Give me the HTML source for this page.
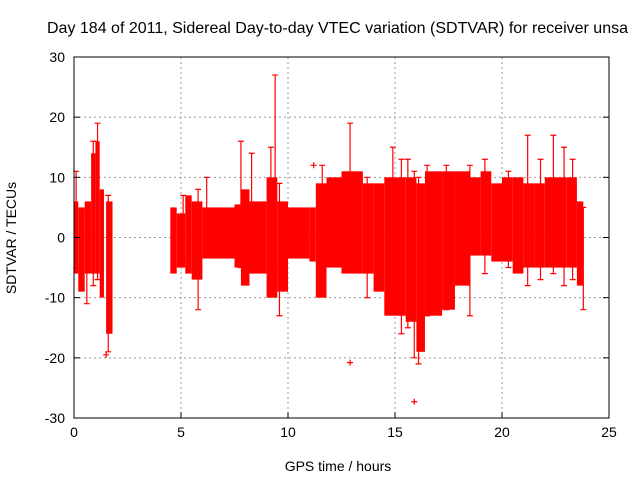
<!DOCTYPE html>
<html><head><meta charset="utf-8"><style>
body{margin:0;background:#fff;}
svg{display:block;font-family:"Liberation Sans",sans-serif;}
</style></head><body>
<svg id="chart" width="640" height="480">
<text x="47" y="33" font-size="16" text-anchor="start">Day 184 of 2011, Sidereal Day-to-day VTEC variation (SDTVAR) for receiver unsa</text>
<text x="338" y="471" font-size="14" text-anchor="middle">GPS time / hours</text>
<text transform="translate(16,238) rotate(-90)" font-size="14" text-anchor="middle">SDTVAR / TECUs</text>
<g id="grid"></g><g id="data"></g><g id="axes"></g>
</svg>
<script>
const xTicks=[0,5,10,15,20,25];
const yTicks=[-30,-20,-10,0,10,20,30];
// envelope bins: start hour, end hour, min, max (TECU)
const binStart=[0,0.2,0.5,0.8,1.0,1.2,1.5,4.5,4.8,5.2,5.5,6.0,7.5,7.8,8.2,9.0,9.5,10.0,11.0,11.3,11.8,12.5,13.5,14.0,14.5,15.5,16.0,16.4,17.2,17.8,18.5,19.0,19.5,20.0,20.5,21.0,21.5,22.0,22.5,23.0,23.5];
const binEnd=[0.2,0.5,0.8,1.0,1.2,1.4,1.8,4.8,5.2,5.5,6.0,7.5,7.8,8.2,9.0,9.5,10.0,11.0,11.3,11.8,12.5,13.5,14.0,14.5,15.5,16.0,16.4,17.2,17.8,18.5,19.0,19.5,20.0,20.5,21.0,21.5,22.0,22.5,23.0,23.5,23.8];
const binMin=[-6,-9,-6,-6,-6,-10,-16,-6,-5,-6,-7,-3.5,-5,-8,-6,-10,-9,-3.5,-4,-10,-5,-6,-6,-9,-13,-14,-19,-13,-12,-8,-3,-3,-4,-4,-6,-5,-5,-5,-5,-5,-8];
const binMax=[6,5,6,14,16,8,6,5,4,7,6,5,5.5,8,6,10,6,5,5,9,10,11,9,9,10,10,9,11,11,11,10,11,9,10,10,9,9,10,10,10,6];
// individual error-bar spikes: hour, low, high
const spikeT=[0.1,0.6,0.9,1.1,1.6,5.1,5.8,6.2,7.8,8.3,9.2,9.4,9.6,11.6,12.9,13.7,14.9,15.3,15.6,15.9,16.1,16.5,17.4,18.5,19.2,20.3,21.2,21.8,22.4,22.9,23.3,23.8];
const spikeLo=[-5,-11,-8,-7,-19,-4,-12,-2,-5,-4,-8,-5,-13,-6,-4,-10,-12,-16,-15,-20,-21,-13,-12,-13,-6,-5,-8,-7,-6,-8,-7,-12];
const spikeHi=[11,4,16,19,7,7,8,10,16,14,15,27,9,12,19,10,15,13,13,11,10,12,12,12,13,11,17,13,17,15,13,5];
const outT=[11.2,12.9,15.9,1.5];
const outV=[12,-20.8,-27.3,-19.5];
const L=74,R=609,T=57,B=418;
const X=h=>L+(R-L)*h/25;
const Y=v=>B-(B-T)*(v+30)/60;
const NS="http://www.w3.org/2000/svg";
function mk(p,tag,a){const e=document.createElementNS(NS,tag);for(const k in a)e.setAttribute(k,a[k]);p.appendChild(e);return e;}
const grid=document.getElementById('grid'),data=document.getElementById('data'),axes=document.getElementById('axes');
xTicks.forEach(t=>{
  if(t>0&&t<25){const g=mk(grid,'line',{x1:X(t),x2:X(t),y1:T,y2:B,stroke:'#999','stroke-dasharray':'2,3','stroke-width':1});
  
  }
  const tk=mk(axes,'line',{x1:X(t),x2:X(t),y1:B,y2:B-6,stroke:'#000'});
  
  
  const lb=mk(axes,'text',{x:X(t),y:B+19,'font-size':14,'text-anchor':'middle'});lb.textContent=t;
  
  
});
yTicks.forEach(v=>{
  if(v>-30&&v<30){const g=mk(grid,'line',{x1:L,x2:R,y1:Y(v),y2:Y(v),stroke:'#999','stroke-dasharray':'2,3','stroke-width':1});
  
  }
  [[L,L+6],[R,R-6]].forEach(([a,b])=>{const tk=mk(axes,'line',{x1:a,x2:b,y1:Y(v),y2:Y(v),stroke:'#000'});
  
  });
  const lb=mk(axes,'text',{x:L-9,y:Y(v)+5,'font-size':14,'text-anchor':'end'});lb.textContent=v;
  
  
});
const fr=mk(axes,'rect',{x:L,y:T,width:R-L,height:B-T,fill:'none',stroke:'#000','stroke-width':1});


binStart.forEach((s,i)=>{
  const r=mk(data,'rect',{x:X(s),y:Y(binMax[i]),width:Math.max(1,X(binEnd[i])-X(s)),height:Y(binMin[i])-Y(binMax[i]),fill:'#f00'});
  
  
});
spikeT.forEach((t,i)=>{
  const g=mk(data,'path',{d:`M${X(t)},${Y(spikeLo[i])}V${Y(spikeHi[i])}M${X(t)-3},${Y(spikeLo[i])}h6M${X(t)-3},${Y(spikeHi[i])}h6`,stroke:'#f00','stroke-width':1.2,fill:'none'});
  
  
});
outT.forEach((t,i)=>{
  const g=mk(data,'path',{d:`M${X(t)-3},${Y(outV[i])}h6M${X(t)},${Y(outV[i])-3}v6`,stroke:'#f00','stroke-width':1.2});
  
  
});
</script>
</body></html>
